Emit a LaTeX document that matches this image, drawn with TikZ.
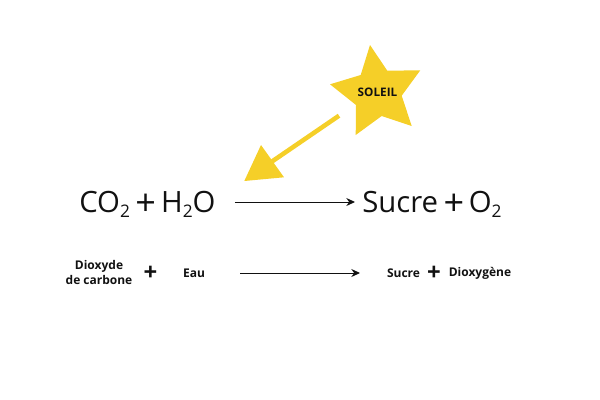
\documentclass[tikz,border=0pt]{standalone}
\usepackage{fontspec}
\setmainfont{Open Sans}
\definecolor{sunyellow}{HTML}{F5CF28}
\definecolor{inkc}{HTML}{111111}
\usetikzlibrary{arrows.meta,calc}
\newcommand{\lowtwo}{\raisebox{-4.2pt}{\fontsize{13}{13}\selectfont 2}}
\newcommand{\bigplus}{\raisebox{-2.4pt}{\fontsize{27}{27}\selectfont +}}
\tikzset{
  big/.style={font=\fontsize{22}{25}\selectfont,text=inkc,inner sep=0pt,anchor=base west},
  small/.style={font=\fontsize{9}{11.3}\selectfont\bfseries,text=inkc,inner sep=0pt,align=center},
  plus/.style={font=\fontsize{18}{20}\selectfont\bfseries,text=inkc,inner sep=0pt},
  reaction/.style={draw=inkc,line width=0.7pt,-{Stealth[length=6.5pt,width=6pt]}},
  sunray/.style={draw=sunyellow,line width=3.4pt},
  sunhead/.style={fill=sunyellow,draw=none},
}
\begin{document}
\begin{tikzpicture}[x=0.75pt,y=-0.75pt]
\useasboundingbox (0,0) rectangle (600,400);
\fill[sunyellow] (370,45) -- (387.3,70.7) -- (420.3,70.3) -- (401.7,95.7) -- (411.7,126) -- (381.7,116) -- (355.7,135) -- (356,105) -- (330,84.3) -- (360.7,75) -- cycle;
\node[small,font=\fontsize{8.8}{10}\selectfont\bfseries] (sun) at (377.5,92) {SOLEIL};
\coordinate (rayStart) at (339,115.7);
\coordinate (rayEnd) at (271.7,161.7);
\coordinate (headA) at (261,145);
\coordinate (headB) at (244.3,181);
\coordinate (headC) at (284,177.3);
\draw[sunray] (rayStart) -- (rayEnd);
\path[sunhead] (headA) -- (headB) -- (headC) -- cycle;
\node[big] (reactants) at (79,212) {CO\lowtwo\hspace{4pt}\bigplus\hspace{4pt}H\lowtwo{}O};
\node[big] (products) at (362,212) {Sucre\hspace{4pt}\bigplus\hspace{3.5pt}O\lowtwo};
\draw[reaction] ($(reactants.base east)+(19,-10)$) -- ($(products.base west)+(-7,-10)$);
\node[small] (co2) at (99,272.5) {Dioxyde\\de carbone};
\node[plus] (plusA) at (150.5,273) {+};
\node[small] (eau) at (194,273) {Eau};
\node[small] (sucre) at (403.5,273) {Sucre};
\node[plus] (plusB) at (434,273) {+};
\node[small] (dioxy) at (480,273) {Dioxygène};
\draw[reaction] ($(eau.center)+(46,0)$) -- ($(sucre.center)+(-43.5,0)$);
\end{tikzpicture}
\end{document}
